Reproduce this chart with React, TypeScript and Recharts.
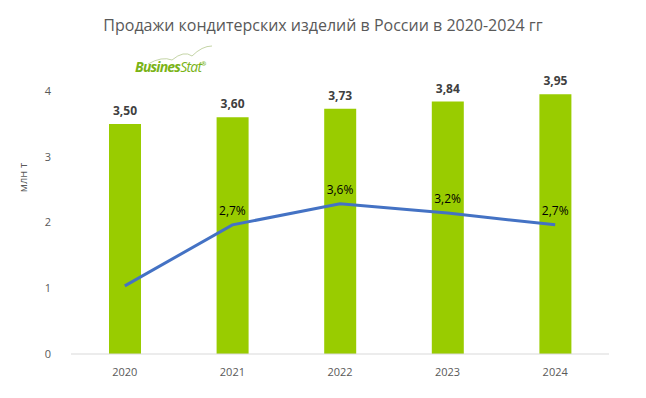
import React from 'react';
import {
  ComposedChart,
  Bar,
  Line,
  XAxis,
  YAxis,
  LabelList,
} from 'recharts';

const years = ['2020', '2021', '2022', '2023', '2024'];
const sales = [3.5, 3.6, 3.73, 3.84, 3.95];
const growth = [0.1, 2.7, 3.6, 3.2, 2.7];
const growthLabels = ['', '2,7%', '3,6%', '3,2%', '2,7%'];
const yTicks = [0, 1, 2, 3, 4];

const chartData = years.map((year, i) => ({
  year,
  sales: sales[i],
  growth: growth[i],
  growthLabel: growthLabels[i],
}));

const FONT = '"Open Sans", "Noto Sans", sans-serif';

function formatComma(value: number): string {
  return value.toFixed(2).replace('.', ',');
}

export default function App() {
  return (
    <div style={{ position: 'absolute', left: 0, top: 0, width: 646, height: 398, background: '#fff', fontFamily: FONT }}>
      <div
        style={{
          position: 'absolute',
          top: 14,
          left: 0,
          width: 646,
          textAlign: 'center',
          fontSize: 16,
          color: '#595959',
        }}
      >
        Продажи кондитерских изделий в России в 2020-2024 гг
      </div>
      <svg style={{ position: 'absolute', left: 140, top: 44 }} width={80} height={22}>
        <path d="M8 20 Q 22 12 32 16 Q 44 6 52 12 Q 62 2 72 2" fill="none" stroke="#B5C98F" strokeWidth={0.8} />
      </svg>
      <div
        style={{
          position: 'absolute',
          top: 57,
          left: 135,
          fontSize: 14,
          fontWeight: 700,
          fontStyle: 'italic',
          color: '#7AB317',
          letterSpacing: -0.8,
        }}
      >
        Busines<span style={{ fontWeight: 400 }}>Stat</span><sup style={{ fontSize: 6 }}>®</sup>
      </div>
      <div
        style={{
          position: 'absolute',
          left: 8,
          top: 170,
          transform: 'rotate(-90deg)',
          fontSize: 11,
          color: '#595959',
        }}
      >
        млн т
      </div>
      <ComposedChart
        width={646}
        height={398}
        data={chartData}
        margin={{ top: 91, right: 37, bottom: 14, left: 31 }}
        barCategoryGap="35%"
      >
        <XAxis
          dataKey="year"
          tick={{ fill: '#595959', fontSize: 11, fontFamily: FONT }}
          axisLine={{ stroke: '#D9D9D9' }}
          tickLine={false}
          tickMargin={8}
        />
        <YAxis
          yAxisId="left"
          width={40}
          domain={[0, 4]}
          ticks={yTicks}
          tick={{ fill: '#595959', fontSize: 11, fontFamily: FONT }}
          axisLine={false}
          tickLine={false}
          tickMargin={14}
        />
        <YAxis yAxisId="right" orientation="right" hide domain={[-2.8, 8.4]} allowDataOverflow />
        <Bar yAxisId="left" dataKey="sales" fill="#99CC00" barSize={32} isAnimationActive={false}>
          <LabelList
            dataKey="sales"
            position="top"
            offset={9}
            formatter={(v: number) => formatComma(v)}
            style={{ fill: '#404040', fontSize: 12, fontWeight: 700, fontFamily: FONT }}
          />
        </Bar>
        <Line
          yAxisId="right"
          dataKey="growth"
          stroke="#4472C4"
          strokeWidth={3}
          dot={false}
          type="linear"
          isAnimationActive={false}
        >
          <LabelList
            dataKey="growthLabel"
            position="top"
            offset={10}
            style={{ fill: '#000000', fontSize: 12, fontFamily: FONT }}
          />
        </Line>
      </ComposedChart>
    </div>
  );
}
